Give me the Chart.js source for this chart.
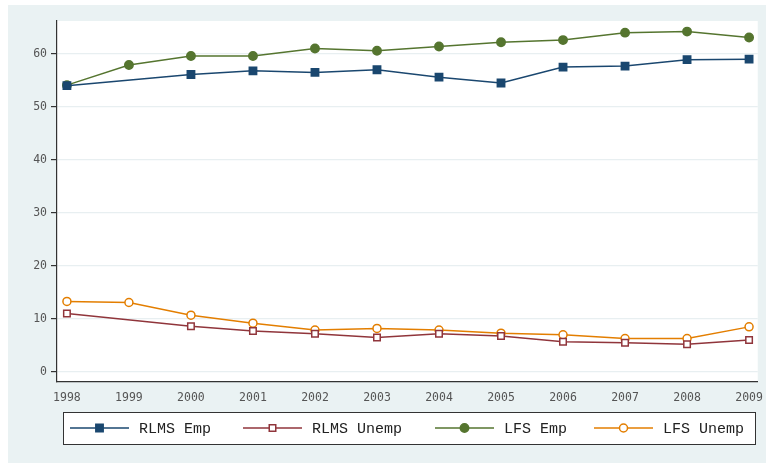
<!DOCTYPE html>
<html lang="en">
  <head>
    <meta charset="UTF-8" />
    <title>RLMS vs LFS</title>
    <style>
      html, body { margin: 0; padding: 0; background: #fff; }
      .chart { width: 766px; height: 463px; }
    </style>
  </head>
  <body>
    <script src="https://cdn.jsdelivr.net/npm/chart.js"></script>
    <div class="chart"><canvas id="chart"></canvas></div>

    <script>
      // years on the x axis
      const years = [1998, 1999, 2000, 2001, 2002, 2003, 2004, 2005, 2006, 2007, 2008, 2009];
      // y axis ticks
      const yTicks = [0, 10, 20, 30, 40, 50, 60];

      // RLMS has no 1999 wave
      const rlmsEmp = [54.0, null, 56.1, 56.8, 56.5, 57.0, 55.6, 54.5, 57.5, 57.7, 58.9, 59.0];
      const rlmsUnemp = [11.0, null, 8.6, 7.7, 7.2, 6.5, 7.2, 6.8, 5.7, 5.5, 5.2, 6.0];
      const lfsEmp = [54.1, 57.9, 59.6, 59.6, 61.0, 60.6, 61.4, 62.2, 62.6, 64.0, 64.2, 63.1];
      const lfsUnemp = [13.3, 13.1, 10.7, 9.2, 7.9, 8.2, 7.9, 7.3, 7.0, 6.3, 6.3, 8.5];

      const bg = "#eaf2f3";
      const axisCol = "#333";
      const tickFont = { family: "'DejaVu Sans Mono'", size: 11.5 };

      const pts = (arr) => arr.map((v, i) => ({ x: years[i], y: v }));

      // outer shaded panel and the white plot region
      const panel = {
        id: "panel",
        beforeDraw(chart) {
          const { ctx, chartArea: a } = chart;
          ctx.save();
          ctx.fillStyle = "#fff";
          ctx.fillRect(0, 0, chart.width, chart.height);
          ctx.fillStyle = bg;
          ctx.fillRect(8, 5, chart.width - 8, chart.height - 5);
          ctx.fillStyle = "#fff";
          ctx.fillRect(a.left, a.top, a.right - a.left, a.bottom - a.top);
          ctx.restore();
        },
      };

      // legend: one row, line + marker + label per dataset
      const stataLegend = {
        id: "stataLegend",
        afterDraw(chart) {
          const { ctx } = chart;
          const box = { x: 63, y: 412, w: 692, h: 32 };
          ctx.save();
          ctx.fillStyle = "#fff";
          ctx.fillRect(box.x, box.y, box.w, box.h);
          ctx.strokeStyle = axisCol;
          ctx.lineWidth = 1;
          ctx.strokeRect(box.x + 0.5, box.y + 0.5, box.w, box.h);
          const starts = [70, 243, 435, 594];
          const cy = box.y + box.h / 2;
          ctx.font = "15px 'Liberation Mono'";
          ctx.textBaseline = "middle";
          chart.data.datasets.forEach((ds, i) => {
            const x0 = starts[i];
            ctx.strokeStyle = ds.borderColor;
            ctx.lineWidth = ds.borderWidth;
            ctx.beginPath();
            ctx.moveTo(x0, cy);
            ctx.lineTo(x0 + 59, cy);
            ctx.stroke();
            ctx.fillStyle = ds.pointBackgroundColor;
            ctx.lineWidth = ds.pointBorderWidth;
            Chart.helpers.drawPoint(ctx, {
              pointStyle: ds.pointStyle,
              radius: ds.pointRadius,
              borderWidth: ds.pointBorderWidth,
              rotation: 0,
            }, x0 + 29.5, cy);
            ctx.fillStyle = "#222";
            ctx.fillText(ds.label, x0 + 69, cy + 1);
          });
          ctx.restore();
        },
      };

      const series = (label, data, color, style, filled, radius) => ({
        label,
        data: pts(data),
        borderColor: color,
        backgroundColor: color,
        borderWidth: 1.5,
        pointStyle: style,
        pointRadius: radius,
        pointHoverRadius: radius,
        pointBorderWidth: 1.5,
        pointBackgroundColor: filled ? color : "#fff",
        pointBorderColor: color,
        spanGaps: true,
        tension: 0,
      });

      new Chart(document.getElementById("chart"), {
        type: "line",
        data: {
          datasets: [
            series("RLMS Emp", rlmsEmp, "#1a476f", "rect", true, 5.2),
            series("RLMS Unemp", rlmsUnemp, "#90353b", "rect", false, 4.6),
            series("LFS Emp", lfsEmp, "#55752f", "circle", true, 4.2),
            series("LFS Unemp", lfsUnemp, "#e37e00", "circle", false, 4),
          ],
        },
        options: {
          responsive: true,
          maintainAspectRatio: false,
          animation: false,
          layout: { padding: { left: 8, top: 21, right: 6, bottom: 51 } },
          plugins: { legend: { display: false }, tooltip: { enabled: false } },
          scales: {
            x: {
              type: "linear",
              min: 1997.84,
              max: 2009.14,
              afterBuildTicks: (s) => { s.ticks = years.map((v) => ({ value: v })); },
              afterFit: (s) => { s.height = 30; },
              grid: { display: false, drawOnChartArea: false, drawTicks: true, tickLength: 6, tickColor: axisCol },
              border: { color: axisCol, width: 1.2 },
              ticks: { font: tickFont, color: "#555", padding: 3, maxRotation: 0, autoSkip: false, callback: (v) => String(v) },
            },
            y: {
              min: -1.9,
              max: 66.2,
              afterBuildTicks: (s) => { s.ticks = yTicks.map((v) => ({ value: v })); },
              afterFit: (s) => { s.width = 49; },
              grid: { color: "#e8eff1", lineWidth: 1.2, tickLength: 6, tickColor: axisCol },
              border: { color: axisCol, width: 1.2 },
              ticks: { font: tickFont, color: "#555", padding: 4 },
            },
          },
        },
        plugins: [panel, stataLegend],
      });
    </script>
  </body>
</html>
